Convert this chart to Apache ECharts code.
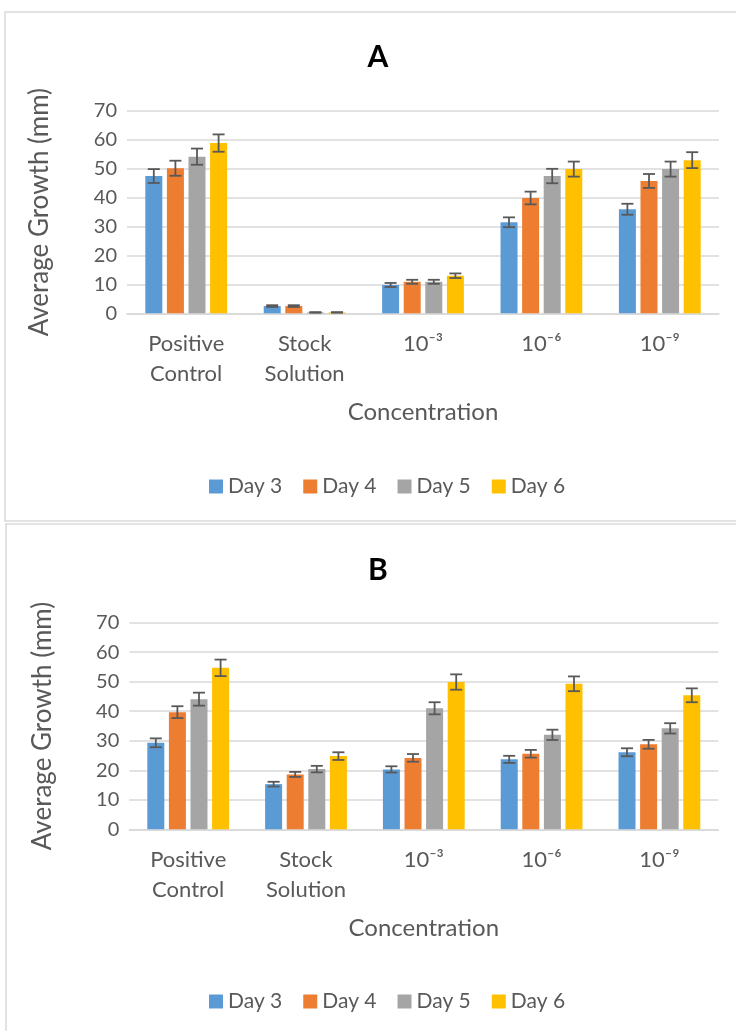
<!DOCTYPE html>
<html>
<head>
<meta charset="utf-8">
<script src="https://cdn.jsdelivr.net/npm/echarts@6/dist/echarts.min.js"></script>
<style>
html,body{margin:0;padding:0;background:#fff;}
#c{width:736px;height:1031px;}
</style>
</head>
<body>
<div id="c"></div>
<script>
const categories = ['Positive\nControl', 'Stock\nSolution', '10⁻³', '10⁻⁶', '10⁻⁹'];
const seriesNames = ['Day 3', 'Day 4', 'Day 5', 'Day 6'];
const colors = ['#5B9BD5', '#ED7D31', '#A5A5A5', '#FFC000'];
const yTicks = [0, 10, 20, 30, 40, 50, 60, 70];

// Panel A values
const aDay3 = [47.5, 2.5, 9.8, 31.5, 36.0];
const aDay4 = [50.2, 2.5, 10.9, 39.9, 45.8];
const aDay5 = [54.2, 0.3, 10.9, 47.5, 49.9];
const aDay6 = [58.9, 0.3, 13.0, 49.9, 53.0];
const aErr3 = [2.4, 0.3, 0.7, 1.7, 1.9];
const aErr4 = [2.6, 0.3, 0.7, 2.2, 2.4];
const aErr5 = [2.8, 0.1, 0.7, 2.5, 2.6];
const aErr6 = [3.0, 0.1, 0.8, 2.6, 2.75];

// Panel B values
const bDay3 = [29.3, 15.3, 20.3, 23.7, 26.1];
const bDay4 = [39.7, 18.6, 24.2, 25.6, 28.8];
const bDay5 = [44.1, 20.4, 41.0, 32.0, 34.2];
const bDay6 = [54.7, 24.8, 49.9, 49.3, 45.4];
const bErr3 = [1.5, 0.8, 1.05, 1.2, 1.35];
const bErr4 = [2.0, 0.85, 1.3, 1.3, 1.5];
const bErr5 = [2.2, 1.1, 2.05, 1.75, 1.75];
const bErr6 = [2.8, 1.3, 2.6, 2.5, 2.35];

const FONT = 'Lato, "Open Sans", sans-serif';
const TXT = '#595959';
const BAR_W = 17;
const BAR_STEP = 21.6;

const panels = [
  {vals: [aDay3, aDay4, aDay5, aDay6], errs: [aErr3, aErr4, aErr5, aErr6]},
  {vals: [bDay3, bDay4, bDay5, bDay6], errs: [bErr3, bErr4, bErr5, bErr6]}
];

const grids = [
  {left: 127, top: 111, width: 592, height: 202.3},
  {left: 129.3, top: 622.7, width: 589, height: 206.6}
];

const xAxes = grids.map((g, i) => ({
  type: 'category', gridIndex: i, data: categories,
  axisTick: {show: false},
  axisLine: {lineStyle: {color: '#d9d9d9', width: 1.5}},
  axisLabel: {interval: 0, color: TXT, fontFamily: FONT, fontSize: 22, lineHeight: 30, margin: 16},
  name: 'Concentration', nameLocation: 'middle', nameGap: 87,
  nameTextStyle: {color: TXT, fontFamily: FONT, fontSize: 24}
}));
const yAxes = grids.map((g, i) => ({
  type: 'value', gridIndex: i, min: 0, max: 70, interval: 10,
  axisLine: {show: false}, axisTick: {show: false},
  axisLabel: {color: TXT, fontFamily: FONT, fontSize: 20, margin: 10,
    formatter: v => yTicks.includes(v) ? String(v) : ''},
  splitLine: {lineStyle: {color: '#d9d9d9', width: 1.5}},
  name: 'Average Growth (mm)', nameLocation: 'middle', nameGap: 74,
  nameTextStyle: {color: TXT, fontFamily: FONT, fontSize: 26}
}));

const series = [];
panels.forEach((p, pi) => {
  p.vals.forEach((arr, si) => {
    series.push({
      type: 'bar', name: seriesNames[si], xAxisIndex: pi, yAxisIndex: pi,
      data: arr, barWidth: BAR_W, barGap: '27%',
      itemStyle: {color: colors[si]},
      emphasis: {disabled: true}
    });
  });
  p.vals.forEach((arr, si) => {
    const data = arr.map((v, k) => [k, v - p.errs[si][k], v + p.errs[si][k]]);
    series.push({
      type: 'custom', xAxisIndex: pi, yAxisIndex: pi, z: 10,
      data: data,
      renderItem: function (params, api) {
        const k = api.value(0);
        const lo = api.coord([k, api.value(1)]);
        const hi = api.coord([k, api.value(2)]);
        const x = lo[0] + (si - 1.5) * BAR_STEP;
        const cw = 6;
        const st = {stroke: '#595959', lineWidth: 1.8};
        return {type: 'group', children: [
          {type: 'line', shape: {x1: x, y1: lo[1], x2: x, y2: hi[1]}, style: st},
          {type: 'line', shape: {x1: x - cw, y1: lo[1], x2: x + cw, y2: lo[1]}, style: st},
          {type: 'line', shape: {x1: x - cw, y1: hi[1], x2: x + cw, y2: hi[1]}, style: st}
        ]};
      },
      silent: true
    });
  });
});

const legendBase = {
  data: seriesNames, icon: 'rect', itemWidth: 14, itemHeight: 14, itemGap: 21,
  textStyle: {color: TXT, fontFamily: FONT, fontSize: 21}, left: 204
};

const option = {
  animation: false,
  color: colors,
  grid: grids,
  xAxis: xAxes,
  yAxis: yAxes,
  series: series,
  legend: [
    Object.assign({}, legendBase, {top: 471}),
    Object.assign({}, legendBase, {top: 986})
  ],
  graphic: [
    {type: 'rect', shape: {x: 5, y: 12, width: 800, height: 509}, style: {fill: 'none', stroke: '#d9d9d9', lineWidth: 1.5}, silent: true, z: -1},
    {type: 'rect', shape: {x: 6, y: 524, width: 800, height: 560}, style: {fill: 'none', stroke: '#d9d9d9', lineWidth: 1.5}, silent: true, z: -1},
    {type: 'text', x: 378, y: 57, style: {text: 'A', fontFamily: FONT, fontSize: 30, fontWeight: 'bold', fill: '#000', textAlign: 'center', textVerticalAlign: 'middle'}},
    {type: 'text', x: 378, y: 570, style: {text: 'B', fontFamily: FONT, fontSize: 30, fontWeight: 'bold', fill: '#000', textAlign: 'center', textVerticalAlign: 'middle'}}
  ]
};

const chart = echarts.init(document.getElementById('c'), null, {renderer: 'canvas'});
chart.setOption(option);
</script>
</body>
</html>
